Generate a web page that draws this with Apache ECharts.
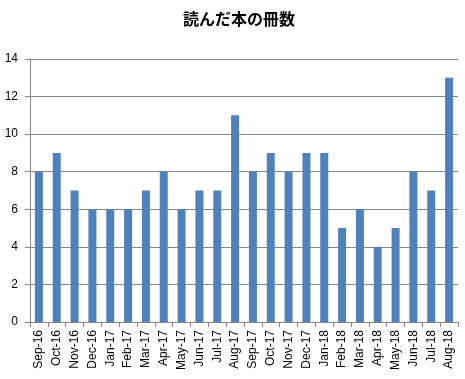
<!DOCTYPE html>
<html><head><meta charset="utf-8">
<script src="https://cdn.jsdelivr.net/npm/echarts@6/dist/echarts.min.js"></script>
<style>html,body{margin:0;padding:0;background:#fff}#c{width:465px;height:379px}</style>
</head><body><div id="c"></div>
<script>
const titleText = '読んだ本の冊数';
const categories = ['Sep-16','Oct-16','Nov-16','Dec-16','Jan-17','Feb-17','Mar-17','Apr-17','May-17','Jun-17','Jul-17','Aug-17','Sep-17','Oct-17','Nov-17','Dec-17','Jan-18','Feb-18','Mar-18','Apr-18','May-18','Jun-18','Jul-18','Aug-18'];
const values = [8,9,7,6,6,6,7,8,6,7,7,11,8,9,8,9,9,5,6,4,5,8,7,13];
const chart = echarts.init(document.getElementById('c'));
chart.setOption({
  animation:false,
  title:{text:titleText,left:234,top:6,textAlign:'center',textStyle:{fontFamily:'Noto Sans CJK JP',fontSize:16,fontWeight:'bold',color:'#000'}},
  grid:{left:30,right:7,top:59,bottom:57,containLabel:false},
  xAxis:{type:'category',data:categories,
    axisLine:{lineStyle:{color:'#868686'}},
    axisTick:{show:true,alignWithLabel:false,length:5,lineStyle:{color:'#868686'}},
    axisLabel:{rotate:90,interval:0,fontFamily:'Liberation Sans',fontSize:12,color:'#000',margin:8}},
  yAxis:{type:'value',min:0,max:14,interval:2,
    axisLine:{show:true,lineStyle:{color:'#868686'}},
    axisTick:{show:true,length:5,lineStyle:{color:'#868686'}},
    splitLine:{lineStyle:{color:'#868686'}},
    axisLabel:{fontFamily:'Liberation Sans',fontSize:12,color:'#000',margin:12}},
  series:[{type:'bar',data:values,barWidth:8,itemStyle:{color:'#4F81BD'}}]
});
</script></body></html>
